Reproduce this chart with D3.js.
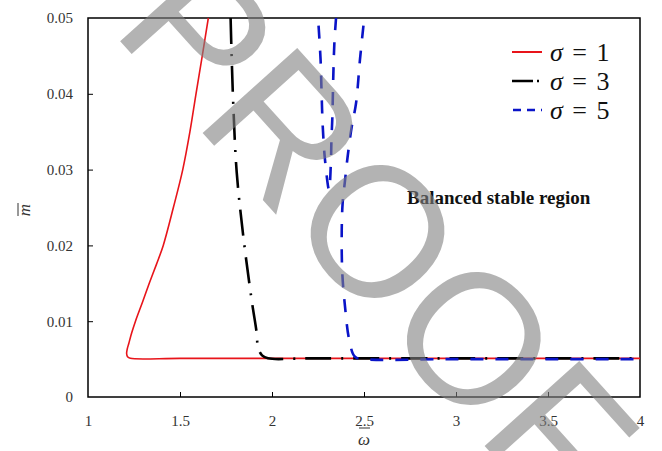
<!DOCTYPE html>
<html><head><meta charset="utf-8">
<script src="https://cdn.jsdelivr.net/npm/d3@7/dist/d3.min.js"></script>
<style>html,body{margin:0;padding:0;background:#fff;}svg{display:block;}
.serif{font-family:"Liberation Serif","Times New Roman",serif;}
</style>
</head><body>
<svg id="chart" width="662" height="451"></svg>
<script>
// ---- data ----
const xTicks = [1, 1.5, 2, 2.5, 3, 3.5, 4];
const yTicks = [0, 0.01, 0.02, 0.03, 0.04, 0.05];
const xTickLabels = ["1", "1.5", "2", "2.5", "3", "3.5", "4"];
const yTickLabels = ["0", "0.01", "0.02", "0.03", "0.04", "0.05"];

const sigma1X = [4.0, 3.0, 2.0, 1.5, 1.23, 1.215, 1.21, 1.213, 1.222, 1.238, 1.258, 1.296, 1.333, 1.372, 1.409, 1.464, 1.515, 1.554, 1.587, 1.621, 1.654];
const sigma1Y = [0.0051, 0.0051, 0.0051, 0.0051, 0.0051, 0.0053, 0.0057, 0.0063, 0.0071, 0.0085, 0.010, 0.0125, 0.015, 0.0175, 0.020, 0.025, 0.030, 0.035, 0.040, 0.045, 0.050];

const sigma3X = [1.775, 1.781, 1.790, 1.808, 1.844, 1.890, 1.917, 1.924, 1.946, 1.978, 2.2, 3.0, 4.0];
const sigma3Y = [0.050, 0.0447, 0.0383, 0.0297, 0.0212, 0.0127, 0.0084, 0.0065, 0.0055, 0.0051, 0.0051, 0.0051, 0.0051];

const sigma5aX = [2.253, 2.264, 2.269, 2.276, 2.288, 2.310, 2.320, 2.323, 2.328, 2.333, 2.339, 2.348];
const sigma5aY = [0.049, 0.0445, 0.0405, 0.0356, 0.0313, 0.0273, 0.0309, 0.0339, 0.0369, 0.0422, 0.0467, 0.050];

const sigma5bX = [2.497, 2.478, 2.457, 2.433, 2.411, 2.397, 2.384, 2.379, 2.382, 2.397, 2.420, 2.451, 2.50, 3.0, 3.5, 4.0];
const sigma5bY = [0.049, 0.0445, 0.0388, 0.0356, 0.0317, 0.0286, 0.0256, 0.0220, 0.0164, 0.0119, 0.0075, 0.0053, 0.0050, 0.0050, 0.0050, 0.0050];

const legendLabels = ["1", "3", "5"];

// ---- chart ----
const svg = d3.select("#chart");
const X0 = 88, X1 = 640, Y0 = 18, Y1 = 397;
const x = d3.scaleLinear().domain([1, 4]).range([X0, X1]);
const y = d3.scaleLinear().domain([0, 0.05]).range([Y1, Y0]);

const line = d3.line().x(d => x(d[0])).y(d => y(d[1])).curve(d3.curveCatmullRom.alpha(0.5));
const zip = (a, b) => a.map((v, i) => [v, b[i]]);

// frame
svg.append("rect").attr("x", X0).attr("y", Y0).attr("width", X1 - X0).attr("height", Y1 - Y0)
  .attr("fill", "none").attr("stroke", "#000").attr("stroke-width", 1.5);

// axes (ticks inside)
const xAxis = d3.axisBottom(x).tickValues(xTicks).tickSize(-5).tickPadding(18)
  .tickFormat((d, i) => xTickLabels[i]);
const gx = svg.append("g").attr("transform", `translate(0,${Y1})`).call(xAxis);
const yAxis = d3.axisLeft(y).tickValues(yTicks).tickSize(-5).tickPadding(15)
  .tickFormat((d, i) => yTickLabels[i]);
const gy = svg.append("g").attr("transform", `translate(${X0},0)`).call(yAxis);
[gx, gy].forEach(g => {
  g.attr("font-family", null).attr("font-size", null);
  g.select(".domain").remove();
  g.selectAll(".tick line").attr("stroke", "#000").attr("stroke-width", 1);
  g.selectAll(".tick text").attr("class", "serif").attr("fill", "#333").style("font-size", "15px");
});
gx.selectAll(".tick").filter((d, i) => i === 0 || i === xTicks.length - 1).select("line").remove();
gy.selectAll(".tick").filter((d, i) => i === 0 || i === yTicks.length - 1).select("line").remove();

// axis titles
svg.append("text").attr("class", "serif").attr("x", 364).attr("y", 445).attr("text-anchor", "middle")
  .style("font-style", "italic").style("font-size", "17px").attr("fill", "#333")
  .text("\u03C9");
svg.append("line").attr("x1", 359).attr("x2", 370).attr("y1", 428).attr("y2", 428).attr("stroke", "#333").attr("stroke-width", 1);
const yt = svg.append("g").attr("transform", "translate(30,210) rotate(-90)");
yt.append("text").attr("class", "serif").attr("x", 0).attr("y", 0).attr("text-anchor", "middle")
  .style("font-style", "italic").style("font-size", "17px").attr("fill", "#333")
  .text("m");
yt.append("line").attr("x1", -6).attr("x2", 7).attr("y1", -12).attr("y2", -12).attr("stroke", "#333").attr("stroke-width", 1);

// series
const plot = svg.append("g");
plot.append("path").attr("d", line(zip(sigma1X, sigma1Y))).attr("fill", "none")
  .attr("stroke", "#e8141a").attr("stroke-width", 1.6);
plot.append("path").attr("d", line(zip(sigma3X, sigma3Y))).attr("fill", "none")
  .attr("stroke", "#000").attr("stroke-width", 2.6).attr("stroke-dasharray", "26 10 2 10");
plot.append("path").attr("d", line(zip(sigma5aX, sigma5aY))).attr("fill", "none")
  .attr("stroke", "#0a14c8").attr("stroke-width", 2.6).attr("stroke-dasharray", "13 12");
plot.append("path").attr("d", line(zip(sigma5bX, sigma5bY))).attr("fill", "none")
  .attr("stroke", "#0a14c8").attr("stroke-width", 2.6).attr("stroke-dasharray", "13 12");

// legend
const lg = svg.append("g");
const ly = [52, 81, 110];
lg.append("line").attr("x1", 512).attr("x2", 542).attr("y1", ly[0]).attr("y2", ly[0]).attr("stroke", "#e8141a").attr("stroke-width", 2);
lg.append("line").attr("x1", 512).attr("x2", 542).attr("y1", ly[1]).attr("y2", ly[1]).attr("stroke", "#000").attr("stroke-width", 2.6).attr("stroke-dasharray", "21 4 2 10");
lg.append("line").attr("x1", 513).attr("x2", 542).attr("y1", ly[2]).attr("y2", ly[2]).attr("stroke", "#0a14c8").attr("stroke-width", 2.6).attr("stroke-dasharray", "8 6");
legendLabels.forEach((t, i) => {
  const tx = lg.append("text").attr("class", "serif").attr("x", 550).attr("y", ly[i] + 9)
    .style("font-size", "26px").style("word-spacing", "3px").attr("fill", "#111");
  tx.append("tspan").style("font-style", "italic").text("\u03C3");
  tx.append("tspan").text(" = " + t);
});

svg.append("text").attr("class", "serif").attr("x", 407).attr("y", 204)
  .style("font-weight", "bold").style("font-size", "19px").attr("fill", "#111")
  .text("Balanced stable region");

// watermark
svg.append("text").attr("transform", "translate(110,30) rotate(48)")
  .style("font-family", "'Liberation Sans', Arial, sans-serif").style("font-size", "185px")
  .attr("fill", "#808080").attr("fill-opacity", 0.6)
  .text("PROOF");
</script>
</body></html>
